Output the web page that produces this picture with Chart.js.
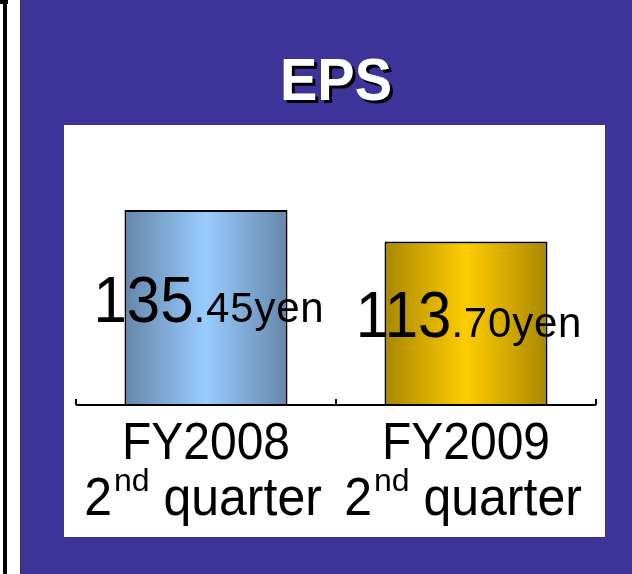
<!DOCTYPE html>
<html lang="en">
<head>
<meta charset="UTF-8">
<title>EPS</title>
<script src="https://cdn.jsdelivr.net/npm/chart.js"></script>
<style>
    body {
        margin: 0;
        width: 632px;
        height: 574px;
        background: #3e3398;
        position: relative;
        overflow: hidden;
        font-family: 'Liberation Sans', Arial, sans-serif;
    }

    .borde {
        position: absolute;
        left: 0;
        top: 0;
        width: 20px;
        height: 574px;
        background: #fff;
        border-right: 1px solid #333;
    }

    .borde .linea {
        position: absolute;
        left: 3px;
        top: 4px;
        bottom: 0;
        width: 4px;
        background: #000;
    }

    .borde .tope {
        position: absolute;
        left: 0;
        top: 0;
        width: 8px;
        height: 4px;
        background: #000;
    }

    .titulo {
        position: absolute;
        left: 236px;
        top: 52px;
        width: 200px;
        text-align: center;
        font-size: 56px;
        font-weight: bold;
        line-height: 56px;
        color: #fff;
        text-shadow: 3px 3px 0 #000;
        transform: scaleY(1.05);
    }

    .panel {
        position: absolute;
        left: 64px;
        top: 125px;
        width: 541px;
        height: 412px;
        background: #fff;
    }
</style>
</head>
<body>
    <div class="borde"><div class="tope"></div><div class="linea"></div></div>
    <div class="titulo">EPS</div>
    <div class="panel"><canvas id="grafica"></canvas></div>

<script>
    // datos
    const periodos = ['FY2008', 'FY2009'];
    const trimestreNum = ['2', '2'];
    const trimestreSufijo = ['nd', 'nd'];
    const eps = [135.45, 113.70];
    const unidad = 'yen';

    const coloresBorde = [['#6586a9', '#99ccff'], ['#a88700', '#ffcc00']];
    const FUENTE = '"Liberation Sans", Arial, sans-serif';
    const CAT_PCT = 0.627;
    const ESTIRA = 1.07; // el original se ve un poco estirado en vertical

    // degradado horizontal: oscuro en los bordes, claro en el centro
    function degradado(ctx) {
        const chart = ctx.chart;
        const x = chart.scales.x;
        const par = coloresBorde[ctx.dataIndex];
        if (!chart.chartArea || !x) return par[1];
        const centro = x.getPixelForValue(ctx.dataIndex);
        const ancho = chart.chartArea.width / periodos.length * CAT_PCT;
        const g = chart.ctx.createLinearGradient(centro - ancho / 2, 0, centro + ancho / 2, 0);
        g.addColorStop(0, par[0]);
        g.addColorStop(0.5, par[1]);
        g.addColorStop(1, par[0]);
        return g;
    }

    function texto(c, t, x, y, font, sy, espacio) {
        c.save();
        c.font = font;
        c.letterSpacing = (espacio || 0) + 'px';
        c.translate(x, y);
        c.scale(1, sy);
        c.fillText(t, 0, 0);
        c.restore();
    }

    function ancho(c, t, font, espacio) {
        c.save();
        c.font = font;
        c.letterSpacing = (espacio || 0) + 'px';
        const w = c.measureText(t).width;
        c.restore();
        return w;
    }

    const etiquetas = {
        id: 'etiquetas',
        afterDatasetsDraw(chart) {
            const c = chart.ctx;
            const x = chart.scales.x;
            const area = chart.chartArea;
            const base = area.bottom;
            c.save();

            // eje con marcas hacia arriba
            c.strokeStyle = '#000';
            c.lineWidth = 2;
            c.beginPath();
            c.moveTo(area.left, base);
            c.lineTo(area.right, base);
            for (let i = 0; i <= periodos.length; i++) {
                const px = Math.round(x.getPixelForValue(i - 0.5));
                c.moveTo(px, base);
                c.lineTo(px, base - 6);
            }
            c.stroke();

            c.fillStyle = '#000';
            c.textBaseline = 'alphabetic';
            c.textAlign = 'left';

            // valores dentro de las barras
            const fGrande = '60px ' + FUENTE;
            const fChica = '42px ' + FUENTE;
            chart.getDatasetMeta(0).data.forEach((barra, i) => {
                const partes = eps[i].toFixed(2).split('.');
                const grande = partes[0];
                const chica = '.' + partes[1] + unidad;
                const w1 = ancho(c, grande, fGrande);
                const w2 = ancho(c, chica, fChica, 0.8);
                const x0 = barra.x + 3 - (w1 + w2) / 2;
                const y0 = (barra.y + barra.base) / 2 + 14;
                texto(c, grande, x0, y0, fGrande, ESTIRA);
                texto(c, chica, x0 + w1, y0, fChica, 1, 0.8);
            });

            // etiquetas de categoria
            const fAnio = '48px ' + FUENTE;
            const fTrim = '50px ' + FUENTE;
            const fSup = '32px ' + FUENTE;
            periodos.forEach((p, i) => {
                const cx = x.getPixelForValue(i);
                const wp = ancho(c, p, fAnio);
                texto(c, p, cx - wp / 2, base + 54, fAnio, ESTIRA);

                const resto = ' quarter';
                const wa = ancho(c, trimestreNum[i], fTrim);
                const wb = ancho(c, trimestreSufijo[i], fSup);
                const wc = ancho(c, resto, fTrim);
                let xx = cx - 4 - (wa + wb + wc) / 2;
                texto(c, trimestreNum[i], xx, base + 110, fTrim, ESTIRA);
                xx += wa + 2;
                texto(c, trimestreSufijo[i], xx, base + 86, fSup, 1);
                xx += wb;
                texto(c, resto, xx, base + 110, fTrim, ESTIRA);
            });
            c.restore();
        }
    };

    const ctx = document.getElementById('grafica').getContext('2d');
    const chart = new Chart(ctx, {
        type: 'bar',
        data: {
            labels: periodos,
            datasets: [{
                label: 'EPS',
                data: eps,
                backgroundColor: degradado,
                borderColor: '#000',
                borderWidth: 2,
                categoryPercentage: CAT_PCT,
                barPercentage: 1
            }]
        },
        options: {
            responsive: true,
            maintainAspectRatio: false,
            animation: false,
            layout: {
                padding: { left: 12, right: 9, top: 21, bottom: 132 }
            },
            plugins: {
                legend: { display: false },
                tooltip: { enabled: false }
            },
            scales: {
                x: { display: false },
                y: { display: false, min: 0, max: 180 }
            }
        },
        plugins: [etiquetas]
    });
</script>
</body>
</html>
